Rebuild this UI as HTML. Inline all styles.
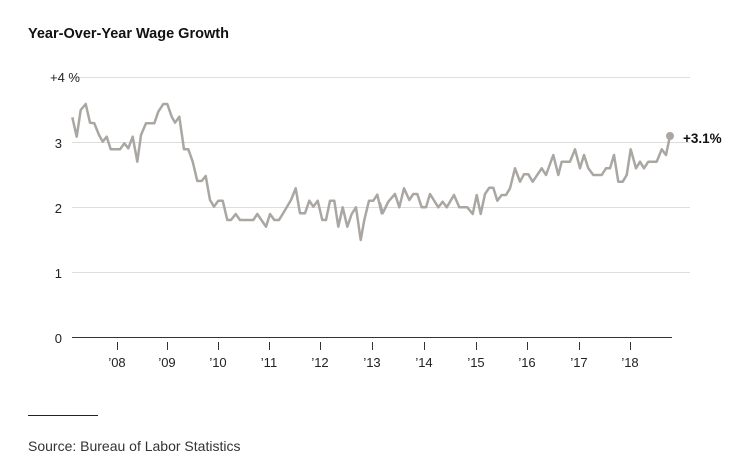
<!DOCTYPE html>
<html><head><meta charset="utf-8"><style>
body{margin:0;background:#fff;width:748px;height:463px;overflow:hidden;font-family:"Liberation Sans",Arial,sans-serif}
</style></head><body>
<svg width="748" height="463" xmlns="http://www.w3.org/2000/svg" font-family="Liberation Sans, Arial, sans-serif">
<text x="28" y="38" font-size="14.5" font-weight="bold" fill="#111">Year-Over-Year Wage Growth</text>
<g stroke="#dddddd" stroke-width="1">
<line x1="72" x2="690" y1="77.5" y2="77.5"/>
<line x1="72" x2="690" y1="142.5" y2="142.5"/>
<line x1="72" x2="690" y1="207.5" y2="207.5"/>
<line x1="72" x2="690" y1="272.5" y2="272.5"/>
</g>
<line x1="72" x2="672" y1="337.5" y2="337.5" stroke="#333" stroke-width="1"/>
<g font-size="13" fill="#222" text-anchor="end">
<text x="80" y="82">+4 %</text>
<text x="62" y="148">3</text>
<text x="62" y="213">2</text>
<text x="62" y="278">1</text>
<text x="62" y="343">0</text>
</g>
<g id="ticks" stroke="#333"></g>
<g id="tl" font-size="13" fill="#222" text-anchor="middle"></g>
<polyline id="ln" fill="none" stroke="#aaa7a3" stroke-width="2.5" stroke-linejoin="round"/>
<circle cx="670" cy="136" r="4" fill="#aaa7a3"/>
<text x="683" y="143" font-size="13.5" font-weight="bold" fill="#111">+3.1%</text>
<line x1="28" x2="98" y1="415.5" y2="415.5" stroke="#222" stroke-width="1"/>
<text x="28" y="451" font-size="14" fill="#333">Source: Bureau of Labor Statistics</text>
</svg>
<script>
var a=[[37,82],[50,140],[62,60],[77,42],[90,98],[103,100],[117,135],[128,155],[140,140],[152,178],[180,178],[193,160],[205,175],[218,140],[232,215],[243,135],[258,100],[283,100],[295,65],[310,42],[322,42],[335,80],[345,98],[358,80],[372,178],[385,178],[398,215],[412,273],[425,273],[437,258],[450,330],[462,350],[475,332],[488,332],[502,390],[513,390],[527,372],[540,390],[580,390],[592,372],[618,410],[630,372],[643,390],[657,390],[668,372],[693,330],[707,295],[720,370],[735,370],[748,332],[760,350],[773,332],[787,390],[798,390],[810,332],[823,332],[835,410],[848,352],[862,410],[875,372],[888,352],[902,450],[913,390],[927,332],[940,332],[952,314],[965,370]];
var b=[[0,250],[8,280],[25,245],[45,222],[58,262],[72,205],[88,240],[100,222],[112,222],[125,262],[138,262],[150,222],[175,262],[188,245],[200,262],[222,225],[238,262],[262,262],[278,282],[290,225],[302,282],[315,222],[328,203],[340,203],[352,242],[365,225],[378,225],[390,205],[405,145],[420,185],[432,163],[445,163],[458,185],[485,145],[498,165],[520,105],[535,165],[545,125],[570,125],[585,88],[600,145],[612,105],[625,145],[640,165],[665,165],[678,145],[690,145],[702,105],[715,185],[728,185],[740,165],[752,88],[768,145],[780,125],[792,145],[805,125],[830,125],[845,88],[858,105],[870,48]];
var p=a.map(function(q){return (60+q[0]/3).toFixed(1)+","+(90+q[1]/3).toFixed(1)}).concat(b.map(function(q){return (380+q[0]/3).toFixed(1)+","+(120+q[1]/3).toFixed(1)}));
document.getElementById("ln").setAttribute("points",p.join(" "));
var xs=[117,167,218,269,320,372,424,476,527,579,630],ns="http://www.w3.org/2000/svg";
xs.forEach(function(x,i){var l=document.createElementNS(ns,"line");l.setAttribute("x1",x+.5);l.setAttribute("x2",x+.5);l.setAttribute("y1",342);l.setAttribute("y2",350);document.getElementById("ticks").appendChild(l);
var t=document.createElementNS(ns,"text");t.setAttribute("x",x);t.setAttribute("y",367);t.textContent="\u2019"+String(8+i).padStart(2,"0");document.getElementById("tl").appendChild(t);});
</script>
</body></html>
